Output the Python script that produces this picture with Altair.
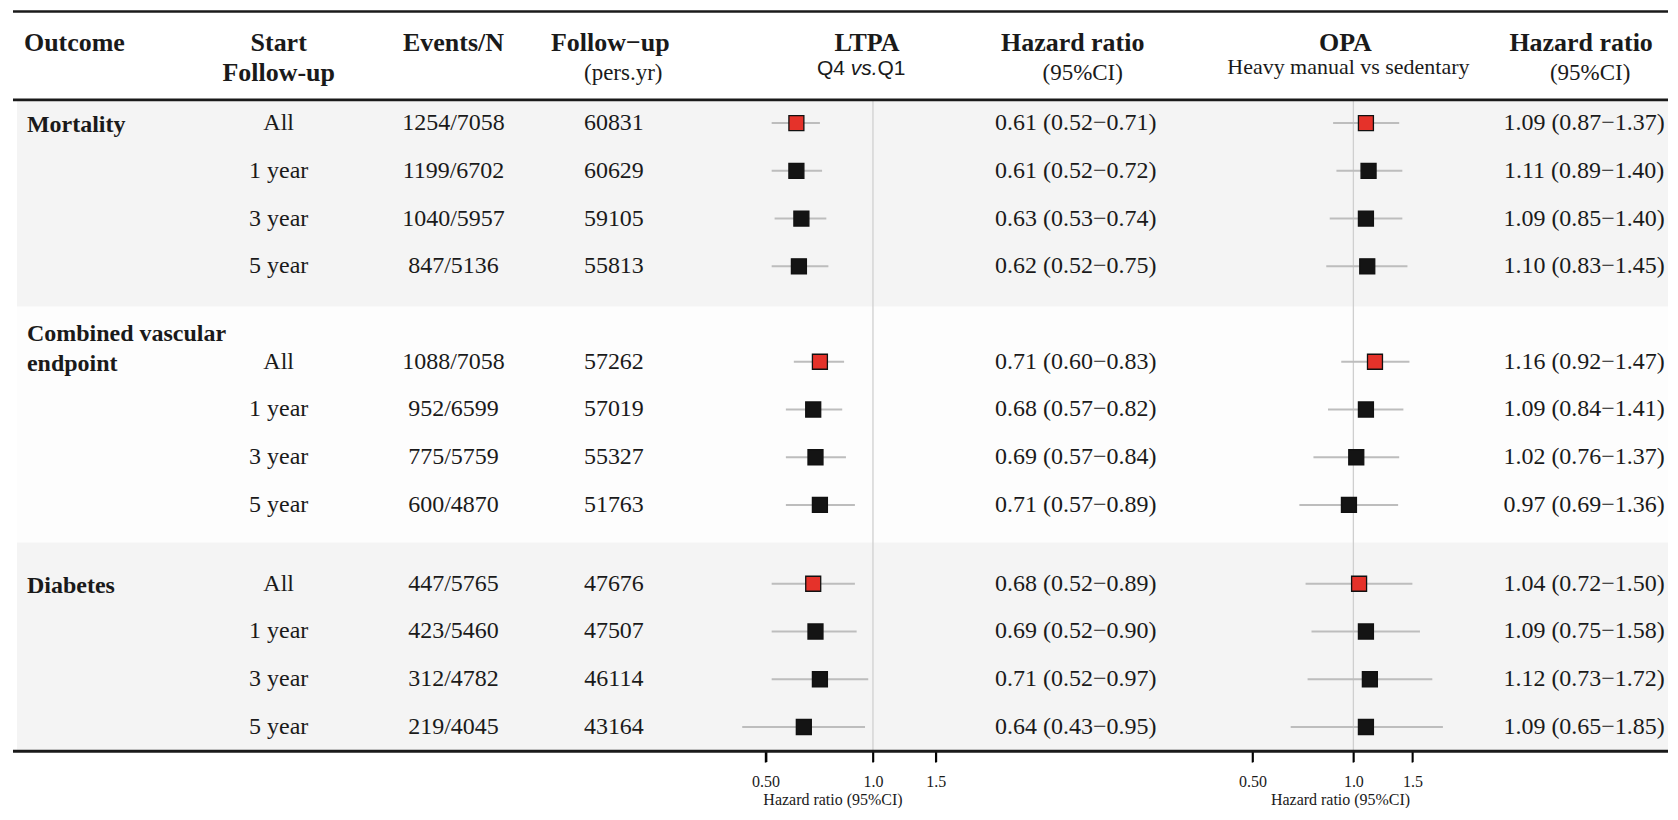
import math
import pandas as pd
import altair as alt

# ---------------- data ----------------
outcomes = ["Mortality", "Combined vascular\nendpoint", "Diabetes"]
start_followup = ["All", "1 year", "3 year", "5 year"]
events_n = ["1254/7058", "1199/6702", "1040/5957", "847/5136",
            "1088/7058", "952/6599", "775/5759", "600/4870",
            "447/5765", "423/5460", "312/4782", "219/4045"]
person_years = [60831, 60629, 59105, 55813,
                57262, 57019, 55327, 51763,
                47676, 47507, 46114, 43164]
ltpa_hr = [0.61, 0.61, 0.63, 0.62, 0.71, 0.68, 0.69, 0.71, 0.68, 0.69, 0.71, 0.64]
ltpa_lo = [0.52, 0.52, 0.53, 0.52, 0.60, 0.57, 0.57, 0.57, 0.52, 0.52, 0.52, 0.43]
ltpa_hi = [0.71, 0.72, 0.74, 0.75, 0.83, 0.82, 0.84, 0.89, 0.89, 0.90, 0.97, 0.95]
opa_hr = [1.09, 1.11, 1.09, 1.10, 1.16, 1.09, 1.02, 0.97, 1.04, 1.09, 1.12, 1.09]
opa_lo = [0.87, 0.89, 0.85, 0.83, 0.92, 0.84, 0.76, 0.69, 0.72, 0.75, 0.73, 0.65]
opa_hi = [1.37, 1.40, 1.40, 1.45, 1.47, 1.41, 1.37, 1.36, 1.50, 1.58, 1.72, 1.85]
axis_ticks = [0.5, 1.0, 1.5]
axis_tick_labels = ["0.50", "1.0", "1.5"]

# ---------------- layout / style ----------------
SERIF = "Liberation Serif"
SANS = "Liberation Sans"
INK = "#1a1a1a"
W, H = 1662, 744
ROW0, ROWH = 114.7, 47.8           # pixel centre of first row, row pitch
group_start = [0.0, 5.0, 9.65]      # row slot of the first line of each group
label_line = 0.628                  # line spacing of wrapped group labels (rows)
TICK_LEN = 11


def row_of(px_full):
    return (px_full - 8 - ROW0) / ROWH


ys = alt.Scale(domain=[-ROW0 / ROWH, (H - ROW0) / ROWH], range=[0, H], nice=False, zero=False)


def log_scale(dmin, dmax, x_one, px_per_doubling):
    return alt.Scale(type="log", domain=[dmin, dmax], nice=False,
                     range=[x_one + px_per_doubling * math.log2(dmin),
                            x_one + px_per_doubling * math.log2(dmax)])


ltpa_scale = log_scale(0.39, 1.52, 866, 107.5)
opa_scale = log_scale(0.45, 1.85, 1347, 101)

label_expr = " : ".join(
    [f"datum.value == {v} ? '{t}'" for v, t in zip(axis_ticks[:-1], axis_tick_labels[:-1])]
    + [f"'{axis_tick_labels[-1]}'"])


def hr_axis():
    return alt.Axis(orient="bottom", values=axis_ticks, labelExpr=label_expr,
                    domain=False, grid=False, ticks=True, tickSize=10, tickColor="#000000",
                    tickWidth=1.6, labelFont=SERIF, labelFontSize=16, labelColor=INK,
                    labelPadding=12, labelFlush=False, labelOverlap=False,
                    title="Hazard ratio (95%CI)", titleFont=SERIF, titleFontSize=16,
                    titleFontWeight="normal", titleColor=INK, titlePadding=2)


# ---------------- tables ----------------
recs = []
for g in range(len(outcomes)):
    for i, s in enumerate(start_followup):
        k = g * len(start_followup) + i
        recs.append({
            "row": group_start[g] + i,
            "start": s,
            "events": events_n[k],
            "py": str(person_years[k]),
            "l_hr": ltpa_hr[k], "l_lo": ltpa_lo[k], "l_hi": ltpa_hi[k],
            "o_hr": opa_hr[k], "o_lo": opa_lo[k], "o_hi": opa_hi[k],
            "l_txt": f"{ltpa_hr[k]:.2f} ({ltpa_lo[k]:.2f}\u2212{ltpa_hi[k]:.2f})",
            "o_txt": f"{opa_hr[k]:.2f} ({opa_lo[k]:.2f}\u2212{opa_hi[k]:.2f})",
            "sq": "#e5322a" if i == 0 else "#141414",
        })
df = pd.DataFrame(recs)

lab_recs = []
for g, name in enumerate(outcomes):
    lines = name.split("\n")
    n = len(lines)
    for j, ln in enumerate(lines):
        lab_recs.append({"row": group_start[g] + 0.05 - (n - 1 - j) * label_line, "t": ln})
lab_df = pd.DataFrame(lab_recs)

edges = [row_of(p) for p in [100.5, 306.7, 542.7, 751.7]]
band_fill = ["#f4f4f4", "#fdfdfd", "#f4f4f4"]
band_df = pd.DataFrame({"y0": edges[:-1], "y1": edges[1:], "fill": band_fill})
tick_df = pd.DataFrame({"v": axis_ticks})

layers = []

# background bands
layers.append(alt.Chart(band_df).mark_rect().encode(
    y=alt.Y("y0:Q", scale=ys, axis=None), y2="y1:Q",
    x=alt.value(9), x2=alt.value(W),
    fill=alt.Fill("fill:N", scale=None)))

# reference lines at HR = 1 (carry the axes) + explicit tick marks
ref_df = pd.DataFrame({"v": [1.0], "y0": [edges[0]], "y1": [edges[-1]]})
for sc in (ltpa_scale, opa_scale):
    layers.append(alt.Chart(ref_df).mark_rule(color="#cfcfcf", strokeWidth=1.3).encode(
        x=alt.X("v:Q", scale=sc, axis=hr_axis()),
        y=alt.Y("y0:Q", scale=ys, axis=None), y2="y1:Q"))
    layers.append(alt.Chart(tick_df).mark_rule(color="#000000", strokeWidth=1.6).encode(
        x=alt.X("v:Q", scale=sc, axis=None),
        y=alt.value(H), y2=alt.value(H + TICK_LEN)))

# CI lines and squares
for sc, p in ((ltpa_scale, "l"), (opa_scale, "o")):
    layers.append(alt.Chart(df).mark_rule(color="#bdbdbd", strokeWidth=2).encode(
        x=alt.X(f"{p}_lo:Q", scale=sc, axis=None), x2=f"{p}_hi:Q",
        y=alt.Y("row:Q", scale=ys, axis=None)))
    layers.append(alt.Chart(df).mark_point(
        shape="square", filled=True, size=225, stroke="#111111", strokeWidth=1.3, opacity=1
    ).encode(
        x=alt.X(f"{p}_hr:Q", scale=sc, axis=None),
        y=alt.Y("row:Q", scale=ys, axis=None),
        fill=alt.Fill("sq:N", scale=None)))

# group labels
layers.append(alt.Chart(lab_df).mark_text(
    font=SERIF, fontSize=24, fontWeight="bold", color=INK, align="left", baseline="middle"
).encode(x=alt.value(19), y=alt.Y("row:Q", scale=ys, axis=None), text="t:N"))

# body text columns
for field, xpx in (("start", 271), ("events", 446), ("py", 606.6), ("l_txt", 1069), ("o_txt", 1578)):
    layers.append(alt.Chart(df).mark_text(
        font=SERIF, fontSize=24, color=INK, align="center", baseline="middle"
    ).encode(x=alt.value(xpx), y=alt.Y("row:Q", scale=ys, axis=None), text=f"{field}:N"))

# header texts: (text, x, y, size, weight, align, font, style)
headers = [
    ("Outcome", 16, 35, 26, "bold", "left", SERIF, "normal"),
    ("Start", 271, 35, 26, "bold", "center", SERIF, "normal"),
    ("Follow-up", 271, 65, 26, "bold", "center", SERIF, "normal"),
    ("Events/N", 446, 35, 26, "bold", "center", SERIF, "normal"),
    ("Follow\u2212up", 603, 35, 26, "bold", "center", SERIF, "normal"),
    ("(pers.yr)", 616, 65, 23, "normal", "center", SERIF, "normal"),
    ("LTPA", 860, 35, 26, "bold", "center", SERIF, "normal"),
    ("Q4", 810, 61, 21, "normal", "left", SANS, "normal"),
    ("vs.", 843.8, 61, 21, "normal", "left", SANS, "italic"),
    ("Q1", 870.6, 61, 21, "normal", "left", SANS, "normal"),
    ("Hazard ratio", 1066, 35, 26, "bold", "center", SERIF, "normal"),
    ("(95%CI)", 1076, 65, 23, "normal", "center", SERIF, "normal"),
    ("OPA", 1339, 35, 26, "bold", "center", SERIF, "normal"),
    ("Heavy manual vs sedentary", 1342, 59, 22, "normal", "center", SERIF, "normal"),
    ("Hazard ratio", 1575, 35, 26, "bold", "center", SERIF, "normal"),
    ("(95%CI)", 1584, 65, 23, "normal", "center", SERIF, "normal"),
]
for t, xpx, ypx, fs, fw, al, fnt, sty in headers:
    layers.append(alt.Chart(pd.DataFrame({"t": [t]})).mark_text(
        font=fnt, fontSize=fs, fontWeight=fw, fontStyle=sty, color=INK, align=al, baseline="middle"
    ).encode(x=alt.value(xpx), y=alt.value(ypx), text="t:N"))

# table rules
for ypx, sw in ((3, 2.5), (91.5, 2.8), (743.7, 3)):
    layers.append(alt.Chart(pd.DataFrame({"a": [0]})).mark_rule(color=INK, strokeWidth=sw).encode(
        x=alt.value(5), x2=alt.value(W), y=alt.value(ypx)))

chart = alt.layer(*layers).resolve_scale(x="independent").resolve_axis(x="independent").properties(
    width=W, height=H, padding=0, background="white"
).configure_view(stroke=None)

chart.save("out.html", embed_options={"renderer": "svg", "actions": False})
